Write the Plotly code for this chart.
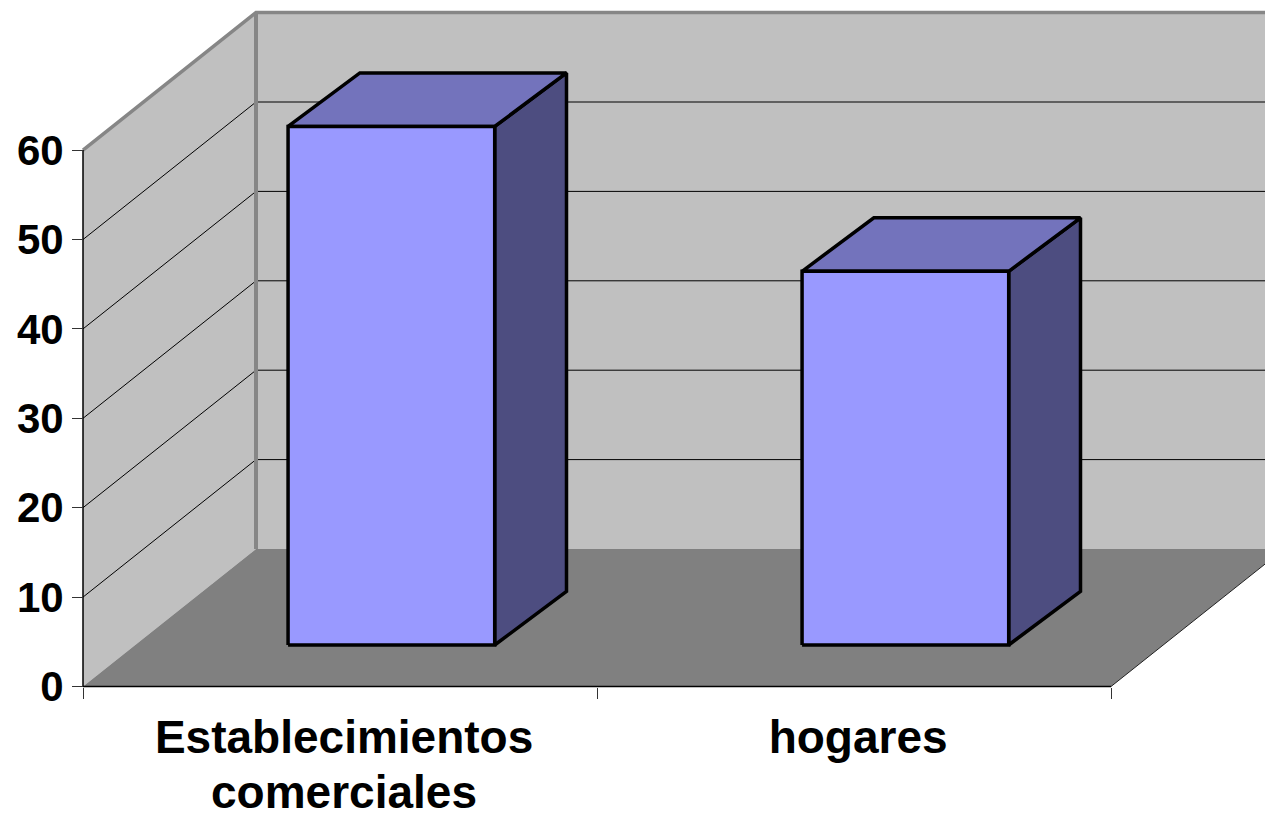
import plotly.graph_objects as go

# Chart data
category_lines = [["Establecimientos", "comerciales"], ["hogares"]]
values = [58, 41.8]
value_ticks = [0, 10, 20, 30, 40, 50, 60]

# Page geometry: the front plane of the box, in pixels
WIDTH, HEIGHT = 1265, 818
ORIGIN_X, ORIGIN_Y = 83, 686.5
PX_PER_CATEGORY = 514
PX_PER_VALUE = 8.94

# Oblique projection of the box: how far one full unit of depth shifts a point
DEPTH_SHIFT_X = 173 / PX_PER_CATEGORY
DEPTH_SHIFT_Y = 137.5 / PX_PER_VALUE
BAR_INSET = 0.298
BAR_WIDTH = 0.402
BAR_DEPTH_X = (0.3, 0.715)
BAR_DEPTH_Y = (0.302, 0.691)
LABEL_CENTRE = 0.508

WALL = "#C0C0C0"
FLOOR = "#808080"
EDGE = "#868686"
FRONT = "#9999FF"
TOP = "#7373BC"
SIDE = "#4D4D80"
VALUE_FONT = dict(family="Liberation Sans, Arial, sans-serif", size=42, color="black", weight=700)
CATEGORY_FONT = dict(family="Liberation Sans, Arial, sans-serif", size=46, color="black", weight=700)


def project(c, v, dx, dy=None):
    dy = dx if dy is None else dy
    return c + dx * DEPTH_SHIFT_X, v + dy * DEPTH_SHIFT_Y


def polygon(points, fill, line_color=None, line_width=0):
    xs = [p[0] for p in points] + [points[0][0]]
    ys = [p[1] for p in points] + [points[0][1]]
    return go.Scatter(
        x=xs, y=ys, mode="lines", fill="toself", fillcolor=fill,
        line=dict(color=line_color or fill, width=line_width),
        hoverinfo="skip", showlegend=False,
    )


def polyline(points, color, width):
    return go.Scatter(
        x=[p[0] for p in points], y=[p[1] for p in points], mode="lines",
        line=dict(color=color, width=width), hoverinfo="skip", showlegend=False,
    )


n = len(values)
top = value_ticks[-1]
fig = go.Figure()

# Walls and floor of the box
fig.add_trace(polygon([project(0, 0, 1), project(n, 0, 1), project(n, top, 1), project(0, top, 1)], WALL))
fig.add_trace(polygon([project(0, 0, 0), project(0, 0, 1), project(0, top, 1), project(0, top, 0)], WALL))
fig.add_trace(polygon([project(0, 0, 0), project(n, 0, 0), project(n, 0, 1), project(0, 0, 1)], FLOOR))

# Gridlines run along the side wall and across the back wall
for tick in value_ticks[1:-1]:
    fig.add_trace(polyline([project(0, tick, 0), project(0, tick, 1), project(n, tick, 1)], "black", 1))

# Outer edges of the walls and the open side of the floor
fig.add_trace(polyline([project(0, top, 0), project(0, top, 1), project(n, top, 1)], EDGE, 3.5))
fig.add_trace(polyline([project(0, top, 1), project(0, 0, 1)], EDGE, 4))
fig.add_trace(polyline([project(n, 0, 0), project(n, 0, 1)], "#222222", 1))

# The two axis lines
fig.add_trace(polyline([project(0, 0, 0), project(0, top, 0)], "black", 1.5))
fig.add_trace(polyline([project(0, 0, 0), project(n, 0, 0)], "black", 1.5))

# Bars: side face, top face, then front face
for i, value in enumerate(values):
    c0, c1 = i + BAR_INSET, i + BAR_INSET + BAR_WIDTH
    dx0, dx1 = BAR_DEPTH_X
    dy0, dy1 = BAR_DEPTH_Y
    fig.add_trace(polygon(
        [project(c1, 0, dx0, dy0), project(c1, 0, dx1, dy1),
         project(c1, value, dx1, dy1), project(c1, value, dx0, dy0)],
        SIDE, "black", 3.5))
    fig.add_trace(polygon(
        [project(c0, value, dx0, dy0), project(c1, value, dx0, dy0),
         project(c1, value, dx1, dy1), project(c0, value, dx1, dy1)],
        TOP, "black", 3.5))
    fig.add_trace(polygon(
        [project(c0, 0, dx0, dy0), project(c1, 0, dx0, dy0),
         project(c1, value, dx0, dy0), project(c0, value, dx0, dy0)],
        FRONT, "black", 3.5))

# Extra label lines sit below the first line, which is the axis tick label
annotations = [
    dict(x=i + LABEL_CENTRE, y=-11.75, xref="x", yref="y", text=line, showarrow=False,
         font=CATEGORY_FONT)
    for i, lines in enumerate(category_lines) for line in lines[1:]
]

# The plot area fills the page so the open side of the box can run past the axes,
# and the axes are anchored at the front plane of the box
fig.update_layout(
    width=WIDTH, height=HEIGHT,
    margin=dict(l=0, r=0, t=0, b=0, pad=0),
    paper_bgcolor="white", plot_bgcolor="white",
    showlegend=False, annotations=annotations,
    xaxis=dict(
        range=[-ORIGIN_X / PX_PER_CATEGORY, (WIDTH - ORIGIN_X) / PX_PER_CATEGORY],
        domain=[0, 1], anchor="free", position=(HEIGHT - ORIGIN_Y) / HEIGHT,
        showgrid=False, zeroline=False, showline=False,
        tickmode="array", tickvals=[i + LABEL_CENTRE for i in range(n)],
        ticktext=[lines[0] for lines in category_lines],
        ticks="outside", ticklen=10, tickcolor="rgba(0,0,0,0)", tickangle=0,
        tickfont=CATEGORY_FONT,
        minor=dict(tickmode="array", tickvals=list(range(n + 1)), ticks="outside",
                   ticklen=11, tickcolor="#333333", tickwidth=1, showgrid=False),
    ),
    yaxis=dict(
        range=[-(HEIGHT - ORIGIN_Y) / PX_PER_VALUE, ORIGIN_Y / PX_PER_VALUE],
        domain=[0, 1], anchor="free", position=ORIGIN_X / WIDTH,
        showgrid=False, zeroline=False, showline=False,
        tickmode="array", tickvals=value_ticks, ticks="outside", ticklen=11,
        tickcolor="#333333", tickwidth=1, tickfont=VALUE_FONT,
    ),
)

fig.write_html("out.html")
